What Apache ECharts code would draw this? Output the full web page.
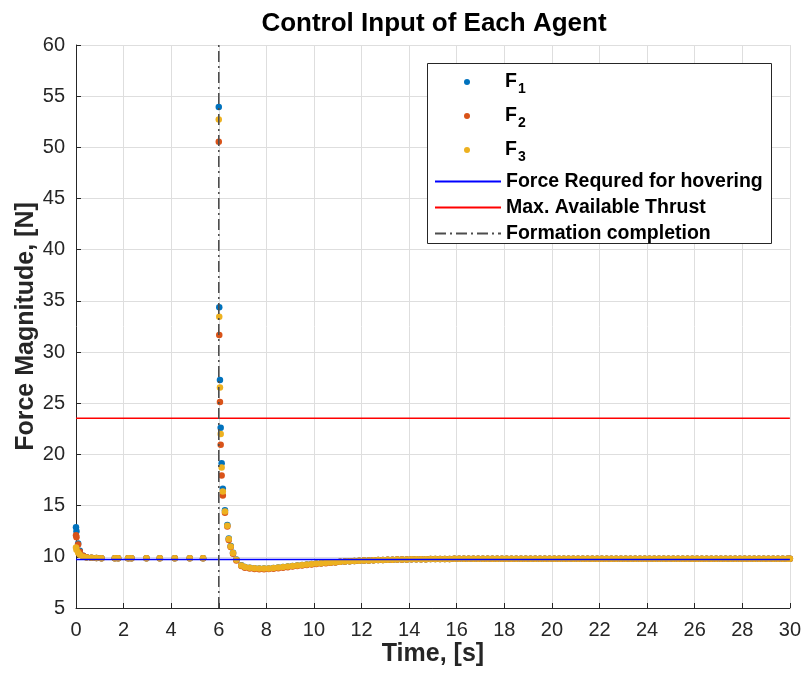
<!DOCTYPE html>
<html>
<head>
<meta charset="utf-8">
<script src="https://cdn.jsdelivr.net/npm/echarts@6/dist/echarts.min.js"></script>
<style>
html,body{margin:0;padding:0;background:#fff;}
#chart{width:804px;height:675px;}
</style>
</head>
<body>
<div id="chart"></div>
<script>
// ---- axis ranges / ticks ----
const xRange = [0, 30];
const yRange = [5, 60];
const xStep = 2;
const yStep = 5;

// ---- reference lines ----
const hoverForce = 9.75;       // Force Requred for hovering
const maxThrust = 23.54;       // Max. Available Thrust
const formationTime = 6;       // Formation completion

// ---- samples before formation completion (shared time) ----
const tPre  = [0, 0.02, 0.09, 0.16, 0.30, 0.44, 0.65, 0.86, 1.07, 1.63, 1.77, 2.19, 2.33, 2.96, 3.52, 4.15, 4.78, 5.34];
const f1Pre = [12.9, 12.5, 11.3, 10.6, 10.1, 9.95, 9.9, 9.88, 9.87, 9.86, 9.86, 9.86, 9.86, 9.86, 9.86, 9.86, 9.86, 9.86];
const f2Pre = [12.1, 11.9, 11.2, 10.5, 10.1, 9.95, 9.9, 9.88, 9.87, 9.86, 9.86, 9.86, 9.86, 9.86, 9.86, 9.86, 9.86, 9.86];
const f3Pre = [10.9, 10.7, 10.4, 10.2, 10.0, 9.93, 9.9, 9.88, 9.87, 9.86, 9.86, 9.86, 9.86, 9.86, 9.86, 9.86, 9.86, 9.86];

// ---- spike right after formation completion ----
const tSpike  = [6.00, 6.02, 6.05, 6.08, 6.12, 6.17, 6.26, 6.36, 6.42, 6.50, 6.60, 6.74, 6.95];
const f1Spike = [53.95, 34.37, 27.28, 22.62, 19.15, 16.64, 14.55, 13.10, 11.80, 11.05, 10.40, 9.75, 9.18];
const f2Spike = [50.54, 31.67, 25.13, 20.94, 17.94, 15.99, 14.30, 12.95, 11.65, 10.95, 10.30, 9.65, 9.10];
const f3Spike = [52.72, 33.46, 26.53, 22.01, 18.72, 16.38, 14.43, 13.03, 11.73, 11.00, 10.37, 9.71, 9.16];

// ---- settling tail (agents overlap) ----
const tailT = [7.1,7.3,7.5,7.7,7.9,8.1,8.3,8.5,8.7,8.9,9.1,9.3,9.5,9.7,9.9,10.1,10.3,10.5,10.7,10.9,
  11.1,11.3,11.5,11.7,11.9,12.1,12.3,12.5,12.7,12.9,13.1,13.3,13.5,13.7,13.9,14.1,14.3,14.5,14.7,14.9,
  15.1,15.3,15.5,15.7,15.9,16.1,16.3,16.5,16.7,16.9,17.1,17.3,17.5,17.7,17.9,18.1,18.3,18.5,18.7,18.9,
  19.1,19.3,19.5,19.7,19.9,20.1,20.3,20.5,20.7,20.9,21.1,21.3,21.5,21.7,21.9,22.1,22.3,22.5,22.7,22.9,
  23.1,23.3,23.5,23.7,23.9,24.1,24.3,24.5,24.7,24.9,25.1,25.3,25.5,25.7,25.9,26.1,26.3,26.5,26.7,26.9,
  27.1,27.3,27.5,27.7,27.9,28.1,28.3,28.5,28.7,28.9,29.1,29.3,29.5,29.7,29.9,30.0];
const fTail = [9.00,8.93,8.88,8.85,8.85,8.87,8.90,8.95,9.00,9.05,9.10,9.15,9.20,9.25,9.30,9.34,9.38,9.42,9.45,9.48,
  9.51,9.54,9.57,9.59,9.61,9.63,9.65,9.67,9.68,9.70,9.71,9.72,9.73,9.74,9.75,9.76,9.76,9.77,9.77,9.78,
  9.78,9.79,9.79,9.79,9.80,9.80,9.80,9.80,9.81,9.81,9.81,9.81,9.81,9.82,9.82,9.82,9.82,9.82,9.82,9.82,
  9.82,9.82,9.82,9.82,9.82,9.82,9.82,9.82,9.82,9.82,9.82,9.82,9.82,9.82,9.82,9.82,9.82,9.82,9.82,9.82,
  9.82,9.82,9.82,9.82,9.82,9.82,9.82,9.82,9.82,9.82,9.82,9.82,9.82,9.82,9.82,9.82,9.82,9.82,9.82,9.82,
  9.82,9.82,9.82,9.82,9.82,9.82,9.82,9.82,9.82,9.82,9.82,9.82,9.82,9.82,9.82,9.82];
const f2TailLow = [8.94,8.87,8.82,8.79,8.79,8.81,8.84,8.89,8.94,8.99,9.05,9.10,9.15,9.20,9.25,9.30,9.34,9.38,9.41,9.44];

const seriesNames = ['F1', 'F2', 'F3'];
const lineNames = ['Force Requred for hovering', 'Max. Available Thrust', 'Formation completion'];
const agentColors = ['#0072BD', '#D95319', '#EDB120'];

function zip(t, v) { return t.map((x, i) => [x, v[i]]); }
const f2Tail = f2TailLow.concat(fTail.slice(f2TailLow.length));
const agentData = [
  zip(tPre, f1Pre).concat(zip(tSpike, f1Spike), zip(tailT, fTail)),
  zip(tPre, f2Pre).concat(zip(tSpike, f2Spike), zip(tailT, f2Tail)),
  zip(tPre, f3Pre).concat(zip(tSpike, f3Spike), zip(tailT, fTail))
];

const FONT = '"Liberation Sans", Arial, Helvetica, sans-serif';
const axisColor = '#262626';
const gridColor = '#dedede';

const chart = echarts.init(document.getElementById('chart'), null, {renderer: 'canvas'});

const option = {
  animation: false,
  backgroundColor: '#fff',
  title: {
    text: 'Control Input of Each Agent',
    left: 429, textAlign: 'center', top: 6,
    textStyle: {fontSize: 26, fontWeight: 'bold', color: '#000', fontFamily: FONT}
  },
  grid: {left: 76, right: 14, top: 45, bottom: 67, containLabel: false},
  xAxis: {
    type: 'value', min: xRange[0], max: xRange[1], interval: xStep,
    name: 'Time, [s]', nameLocation: 'middle', nameGap: 34, nameMoveOverlap: false,
    nameTextStyle: {fontSize: 25, fontWeight: 'bold', color: axisColor, fontFamily: FONT},
    axisLine: {show: true, lineStyle: {color: axisColor, width: 1}},
    axisTick: {show: true, inside: true, length: 5, lineStyle: {color: axisColor}},
    axisLabel: {fontSize: 20, color: axisColor, margin: 12, fontFamily: FONT},
    splitLine: {show: true, lineStyle: {color: gridColor, width: 1}}
  },
  yAxis: {
    type: 'value', min: yRange[0], max: yRange[1], interval: yStep,
    name: 'Force Magnitude, [N]', nameLocation: 'middle', nameGap: 37, nameMoveOverlap: false,
    nameTextStyle: {fontSize: 25, fontWeight: 'bold', color: axisColor, fontFamily: FONT},
    axisLine: {show: true, lineStyle: {color: axisColor, width: 1}},
    axisTick: {show: true, inside: true, length: 5, lineStyle: {color: axisColor}},
    axisLabel: {fontSize: 20, color: axisColor, margin: 11, fontFamily: FONT},
    splitLine: {show: true, lineStyle: {color: gridColor, width: 1}}
  },
  legend: [
    {
      data: seriesNames, orient: 'vertical', left: 464, top: 72, padding: 0,
      itemWidth: 6, itemHeight: 6, itemGap: 10, icon: 'circle',
      formatter: name => '{f|F}{s|' + name.slice(1) + '}',
      textStyle: {
        color: '#000', fontFamily: FONT, fontSize: 19.5, fontWeight: 'bold',
        rich: {
          f: {fontSize: 19.5, fontWeight: 'bold', lineHeight: 28, verticalAlign: 'middle', color: '#000', fontFamily: FONT, padding: [0, 0, 0, 30]},
          s: {fontSize: 14, fontWeight: 'bold', lineHeight: 12, verticalAlign: 'bottom', color: '#000', fontFamily: FONT, padding: [0, 0, 0, 1]}
        }
      },
      z: 20
    },
    {
      data: lineNames, orient: 'vertical', left: 434, top: 171.5, padding: 0,
      itemWidth: 66, itemHeight: 10, itemGap: 6,
      itemStyle: {color: 'rgba(0,0,0,0)', borderWidth: 0, opacity: 0},
      textStyle: {color: '#000', fontFamily: FONT, fontSize: 19.5, fontWeight: 'bold', lineHeight: 18.5},
      z: 20
    }
  ],
  graphic: [{
    type: 'rect', z: 10,
    shape: {x: 427.5, y: 63.5, width: 344, height: 180},
    style: {fill: '#fff', stroke: axisColor, lineWidth: 1}
  }],
  series: [
    ...seriesNames.map((n, i) => ({
      name: n, type: 'scatter', data: agentData[i], symbol: 'circle', symbolSize: 6.5,
      itemStyle: {color: agentColors[i], opacity: 1}, z: 2 + i, silent: true
    })),
    {
      name: lineNames[0], type: 'line', symbol: 'none', z: 6,
      data: [[xRange[0], hoverForce], [xRange[1], hoverForce]],
      lineStyle: {color: '#0000FF', width: 1.5}, itemStyle: {color: '#0000FF'}
    },
    {
      name: lineNames[1], type: 'line', symbol: 'none', z: 6,
      data: [[xRange[0], maxThrust], [xRange[1], maxThrust]],
      lineStyle: {color: '#FF0000', width: 1.5}, itemStyle: {color: '#FF0000'}
    },
    {
      name: lineNames[2], type: 'line', symbol: 'none', z: 6,
      data: [[formationTime, yRange[0]], [formationTime, yRange[1]]],
      lineStyle: {color: '#4d4d4d', width: 1.6, type: [11, 4, 2, 4]}, itemStyle: {color: '#4d4d4d'}
    }
  ]
};
chart.setOption(option);
</script>
</body>
</html>
